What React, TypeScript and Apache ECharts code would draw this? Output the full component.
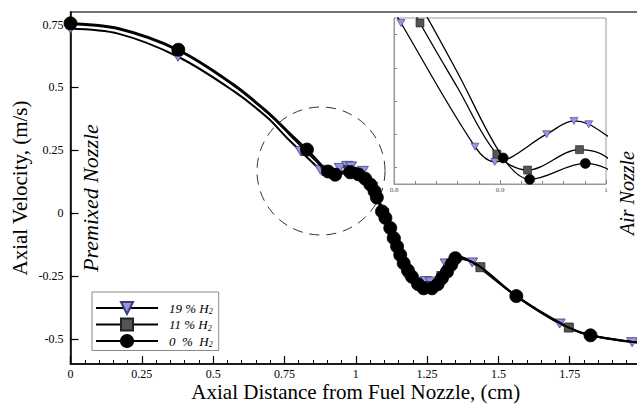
import React, { useEffect, useRef } from 'react';
import * as echarts from 'echarts';

type P = [number, number];

const SERIF = '"Liberation Serif", "Times New Roman", serif';

// axis ticks
const yTickValues = [-0.5, -0.25, 0, 0.25, 0.5, 0.75];
const insetYTickValues = [0.16, 0.18, 0.2, 0.22, 0.24];

// 19 % H2 — marker points and line-only readings
const h19Markers: P[] = [
  [0, 0.733], [0.377, 0.622], [0.8066, 0.247], [0.8764, 0.1725], [0.895, 0.1633],
  [0.944, 0.18], [0.9698, 0.188], [0.9837, 0.186], [1.025, 0.168], [1.245, -0.27],
  [1.262, -0.272], [1.315, -0.2], [1.408, -0.196], [1.715, -0.439], [1.969, -0.513],
];
const h19Curve: P[] = [
  [0.17, 0.713], [0.57, 0.487], [0.69, 0.38], [0.76, 0.298], [1.0, 0.1795],
  [1.06, 0.1], [1.1, -0.005], [1.15, -0.15], [1.2, -0.255], [1.29, -0.245],
  [1.34, -0.175], [1.36, -0.172], [1.563, -0.33], [1.823, -0.486], [2.0, -0.515],
];

// 11 % H2
const h11Markers: P[] = [
  [0, 0.751], [0.378, 0.646], [0.8245, 0.247], [0.897, 0.168], [0.926, 0.1584],
  [0.975, 0.1707], [1.06, 0.105], [1.1, 0.0], [1.14, -0.11], [1.185, -0.235],
  [1.25, -0.29], [1.3, -0.25], [1.335, -0.2], [1.437, -0.215], [1.747, -0.455],
];
const h11Curve: P[] = [
  [0.17, 0.731], [0.57, 0.509], [0.69, 0.399], [0.76, 0.322], [0.86, 0.208],
  [1.0, 0.1664], [1.03, 0.145], [1.36, -0.175], [1.563, -0.33], [1.823, -0.486],
  [1.97, -0.512], [2.0, -0.514],
];

// 0 % H2
const h0Markers: P[] = [
  [0, 0.755], [0.378, 0.65], [0.829, 0.253], [0.903, 0.1657], [0.928, 0.1528],
  [0.9805, 0.1624], [1.01, 0.154], [1.033, 0.137], [1.051, 0.114], [1.066, 0.087],
  [1.074, 0.062], [1.092, 0.007], [1.104, -0.019], [1.121, -0.059], [1.133, -0.099],
  [1.145, -0.133], [1.156, -0.166], [1.168, -0.199], [1.183, -0.228], [1.197, -0.253],
  [1.218, -0.282], [1.238, -0.299], [1.267, -0.299], [1.287, -0.283], [1.302, -0.259],
  [1.32, -0.233], [1.335, -0.205], [1.349, -0.179], [1.563, -0.33], [1.823, -0.486],
];
const h0Curve: P[] = [
  [0.17, 0.735], [0.57, 0.514], [0.69, 0.404], [0.76, 0.328], [0.86, 0.217],
  [1.0, 0.1595], [1.4, -0.19], [1.44, -0.216], [1.715, -0.437], [1.97, -0.512],
  [2.0, -0.514],
];

const seriesNames = ['19 % H2', '11 % H2', '0 % H2'];
const legendLabels: Record<string, string> = {
  '19 % H2': '{h|19 % H}{s|2}',
  '11 % H2': '{h|11 % H}{s|2}',
  '0 % H2': '{h|0  %  H}{s|2}',
};

const TRI = 'path://M0,0L10,0L5,9Z';

function build(markers: P[], curve: P[]) {
  const items: any[] = [
    ...markers.map((p) => ({ value: p })),
    ...curve.map((p) => ({ value: p, symbol: 'none' })),
  ];
  items.sort((a, b) => a.value[0] - b.value[0]);
  return items;
}

const styles = [
  { symbol: TRI, main: [11, 9], inset: [8, 7], color: '#9494ea', border: '#3c3c70' },
  { symbol: 'rect', main: 9, inset: 8, color: '#555555', border: '#222222' },
  { symbol: 'circle', main: 13, inset: 10, color: '#000000', border: '#000000' },
];
const datasets = [
  build(h19Markers, h19Curve),
  build(h11Markers, h11Curve),
  build(h0Markers, h0Curve),
];

export default function App() {
  const ref = useRef<HTMLDivElement>(null);
  useEffect(() => {
    if (!ref.current) return;
    const chart = echarts.init(ref.current, undefined, { renderer: 'svg' });

    const mainSeries = seriesNames.map((name, i) => ({
      type: 'line',
      name,
      xAxisIndex: 0,
      yAxisIndex: 0,
      data: datasets[i],
      smooth: 0.35,
      clip: true,
      symbol: styles[i].symbol,
      symbolSize: styles[i].main,
      lineStyle: { color: '#000', width: 2 },
      itemStyle: { color: styles[i].color, borderColor: styles[i].border, borderWidth: 0.8 },
      emphasis: { disabled: true },
      silent: true,
      z: 2 + i,
    }));
    const insetSeries = seriesNames.map((name, i) => ({
      type: 'line',
      name: 'inset ' + name,
      xAxisIndex: 1,
      yAxisIndex: 2,
      data: datasets[i],
      smooth: 0.35,
      clip: true,
      symbol: styles[i].symbol,
      symbolSize: styles[i].inset,
      lineStyle: { color: '#000', width: 1.3 },
      itemStyle: { color: styles[i].color, borderColor: styles[i].border, borderWidth: 0.6 },
      emphasis: { disabled: true },
      silent: true,
      z: 6 + i,
    }));

    chart.setOption({
      animation: false,
      backgroundColor: '#fff',
      textStyle: { fontFamily: SERIF },
      grid: [
        { left: 70.5, right: 0, top: 12, bottom: 41, outerBoundsMode: 'none', containLabel: false, show: true, borderColor: '#444', borderWidth: 1.5, backgroundColor: 'transparent' },
        { left: 394, top: 18, width: 212, height: 166, outerBoundsMode: 'none', containLabel: false, show: true, borderColor: '#999', borderWidth: 1, backgroundColor: '#fff', z: 5 },
      ],
      xAxis: [
        {
          type: 'value', gridIndex: 0, min: 0, max: 2, interval: 0.25,
          axisLine: { onZero: false, lineStyle: { color: '#000', width: 1.5 } },
          axisTick: { inside: true, length: 8, lineStyle: { color: '#000', width: 1.2 } },
          minorTick: { show: true, splitNumber: 5, length: 4, lineStyle: { color: '#000', width: 1 } },
          splitLine: { show: false },
          axisLabel: { color: '#000', fontSize: 12, margin: 4, fontFamily: SERIF, showMaxLabel: false },
          name: 'Axial Distance from Fuel Nozzle, (cm)',
          nameLocation: 'middle', nameGap: 17, nameMoveOverlap: false,
          nameTextStyle: { fontSize: 21, color: '#000', fontFamily: SERIF },
        },
        {
          type: 'value', gridIndex: 1, min: 0.8, max: 1.0, interval: 0.1,
          axisLine: { onZero: false, lineStyle: { color: '#999', width: 1 } },
          axisTick: { inside: true, length: 4, lineStyle: { color: '#888', width: 1 } },
          minorTick: { show: true, splitNumber: 5, length: 3, lineStyle: { color: '#888', width: 1 } },
          splitLine: { show: false },
          axisLabel: { color: '#555', fontSize: 7, margin: 2, fontFamily: SERIF },
          z: 6,
        },
      ],
      yAxis: [
        {
          type: 'value', gridIndex: 0, min: -0.6, max: 0.8,
          axisLine: { onZero: false, lineStyle: { color: '#000', width: 1.5 } },
          axisTick: { inside: true, length: 8, customValues: yTickValues, lineStyle: { color: '#000', width: 1.2 } },
          splitLine: { show: false },
          axisLabel: { color: '#000', fontSize: 12, margin: 7, customValues: yTickValues, fontFamily: SERIF },
          name: 'Axial Velocity, (m/s)',
          nameLocation: 'middle', nameGap: 40, nameRotate: 90, nameMoveOverlap: false,
          nameTextStyle: { fontSize: 21, color: '#000', fontFamily: SERIF },
        },
        {
          type: 'value', gridIndex: 0, min: -0.6, max: 0.8, interval: 0.05,
          axisLine: { show: false, onZero: false },
          axisTick: { inside: true, length: 4, lineStyle: { color: '#000', width: 1 } },
          splitLine: { show: false },
          axisLabel: { show: false },
        },
        {
          type: 'value', gridIndex: 1, min: 0.15, max: 0.25,
          axisLine: { onZero: false, lineStyle: { color: '#999', width: 1 } },
          axisTick: { inside: true, length: 3, customValues: insetYTickValues, lineStyle: { color: '#888', width: 1 } },
          splitLine: { show: false },
          axisLabel: { show: false },
          z: 6,
        },
      ],
      legend: {
        data: seriesNames,
        orient: 'vertical',
        left: 92,
        top: 292,
        itemWidth: 62,
        itemHeight: 15,
        itemGap: 2,
        padding: [9, 6, 2, 3],
        borderColor: '#888',
        borderWidth: 1,
        backgroundColor: '#fff',
        selectedMode: false,
        formatter: (name: string) => legendLabels[name] || name,
        textStyle: {
          color: '#000',
          fontFamily: SERIF,
          fontStyle: 'italic',
          fontSize: 13,
          padding: [0, 0, 0, 6],
          rich: {
            h: { fontFamily: SERIF, fontStyle: 'italic', fontSize: 13, lineHeight: 15, color: '#000' },
            s: { fontFamily: SERIF, fontStyle: 'italic', fontSize: 8, lineHeight: 8, verticalAlign: 'bottom', color: '#000' },
          },
        },
      },
      graphic: [
        {
          type: 'circle', silent: true, z: 1,
          shape: { cx: 321, cy: 171, r: 64 },
          style: { fill: 'none', stroke: '#333', lineWidth: 1, lineDash: [10, 7] },
        },
        {
          type: 'text', silent: true, x: 90, y: 198, rotation: Math.PI / 2,
          style: { text: 'Premixed Nozzle', fontFamily: SERIF, fontStyle: 'italic', fontSize: 22, fill: '#000', align: 'center', verticalAlign: 'middle' },
        },
        {
          type: 'text', silent: true, x: 627, y: 193, rotation: Math.PI / 2,
          style: { text: 'Air Nozzle', fontFamily: SERIF, fontStyle: 'italic', fontSize: 20, fill: '#000', align: 'center', verticalAlign: 'middle' },
        },
      ],
      series: [...mainSeries, ...insetSeries],
    });
    return () => chart.dispose();
  }, []);
  return (
    <div style={{ position: 'fixed', left: 0, top: 0, width: 637, height: 405, overflow: 'hidden' }}>
      <div ref={ref} style={{ width: 641, height: 405 }} />
    </div>
  );
}
